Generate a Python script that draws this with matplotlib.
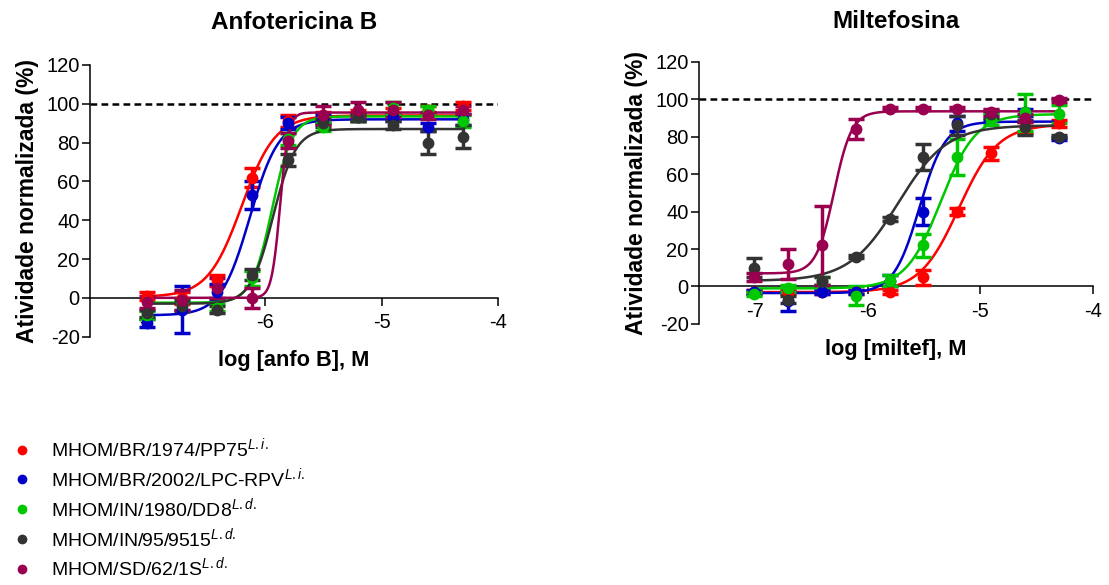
import numpy as np
import matplotlib
matplotlib.use("Agg")
from matplotlib import pyplot as plt
from matplotlib.lines import Line2D

plt.rcParams["font.family"] = ["Liberation Sans", "DejaVu Sans"]
plt.rcParams["mathtext.fontset"] = "custom"
plt.rcParams["mathtext.rm"] = "Liberation Sans"
plt.rcParams["mathtext.it"] = "Liberation Sans:italic"
plt.rcParams["axes.unicode_minus"] = False

# 2-fold dilution series (uM)
conc_uM = [0.0977, 0.195, 0.391, 0.781, 1.5625, 3.125, 6.25, 12.5, 25.0, 50.0]

strains = [
    "MHOM/BR/1974/PP75$^{\\mathit{L.i.}}$",
    "MHOM/BR/2002/LPC-RPV$^{\\mathit{L.i.}}$",
    "MHOM/IN/1980/DD8$^{\\mathit{L.d.}}$",
    "MHOM/IN/95/9515$^{\\mathit{L.d.}}$",
    "MHOM/SD/62/1S$^{\\mathit{L.d.}}$",
]
colors = ["#ff0000", "#0000c8", "#00c800", "#333333", "#990050"]

# Anfotericina B - mean and error per strain
anfo_mean = [
    [1, 0, 9, 62, 91, 93, 94, 96, 97, 99],
    [-13, -6, 3, 53, 90, 92, 93, 93, 88, 92],
    [-9, -3, -5, 10, 82, 88, 93, 98, 97, 91],
    [-8, -4, -6, 12, 71, 90, 93, 89, 80, 83],
    [-2, -1, 5, 0, 81, 94, 97, 97, 94, 97],
]
anfo_err = [
    [2, 3, 3, 5, 3, 3, 3, 2, 2, 2],
    [2, 12, 4, 7, 3, 2, 2, 2, 2, 3],
    [2, 3, 2, 4, 3, 2, 2, 3, 2, 3],
    [2, 3, 2, 3, 3, 2, 2, 2, 6, 6],
    [3, 5, 5, 5, 4, 5, 4, 4, 2, 2],
]
# 4PL fit: bottom, top, logEC50, hill slope
anfo_fit = [
    (0.5, 94.0, -6.20, 3.0),
    (-9.0, 92.0, -6.13, 3.5),
    (-2.5, 93.5, -5.94, 5.0),
    (-3.0, 87.0, -5.93, 4.5),
    (0.0, 95.5, -5.87, 12.0),
]

# Miltefosina
milt_mean = [
    [-3, -3, -3, -3, -3, 5, 40, 71, 85, 87],
    [-3, -8, -3, -3, 3, 40, 87, 91, 93, 79],
    [-4, -1, 3, -5, 3, 22, 69, 89, 93, 92],
    [10, -7, 3, 16, 36, 69, 86, 92, 85, 80],
    [5, 12, 22, 84, 95, 95, 95, 93, 90, 99.5],
]
milt_err = [
    [1, 1, 1, 1, 1, 4, 2, 3.5, 3, 2],
    [1, 5, 1, 1, 3, 7, 4, 2, 2, 1],
    [1, 2, 2, 5, 3, 6, 9.5, 3, 10, 5],
    [5, 2, 2, 1, 1, 7, 5, 2, 4, 1],
    [2, 8, 21, 5.5, 1, 1, 1, 2, 2, 1],
]
milt_fit = [
    (-3.0, 86.5, -5.19, 2.5),
    (-3.5, 88.0, -5.54, 3.8),
    (-1.0, 92.0, -5.35, 2.8),
    (3.0, 86.0, -5.73, 2.0),
    (7.0, 93.5, -6.30, 5.5),
]

log_conc = np.log10(np.array(conc_uM) * 1e-6)


def hill(x, bottom, top, logec50, slope):
    return bottom + (top - bottom) / (1 + 10 ** ((logec50 - x) * slope))


def draw_panel(ax, means, errs, fits, title, xlabel, xticks, title_pad):
    xs = np.linspace(log_conc[0], log_conc[-1], 400)
    for m, e, p, c in zip(means, errs, fits, colors):
        ax.errorbar(log_conc, m, yerr=e, fmt="o", color=c, ms=7.5,
                    elinewidth=2.5, capsize=5.5, capthick=2.5, clip_on=False, zorder=3)
        ax.plot(xs, hill(xs, *p), color=c, lw=1.8, zorder=3)
    ax.axhline(100, color="black", ls=(0, (2.7, 1.7)), lw=1.8, zorder=1)
    ax.set_xlim(-7.5, -4)
    ax.set_ylim(-20, 120)
    ax.set_yticks(range(-20, 121, 20))
    ax.set_xticks(xticks)
    ax.spines["top"].set_visible(False)
    ax.spines["right"].set_visible(False)
    ax.spines["bottom"].set_position(("data", 0))
    for s in ("left", "bottom"):
        ax.spines[s].set_linewidth(1.1)
    ax.tick_params(axis="both", direction="out", length=6, width=1.1,
                   labelsize=14.5, pad=1.5)
    ax.tick_params(axis="x", pad=5)
    ax.set_ylabel("Atividade normalizada (%)", fontsize=16.5, fontweight="bold",
                  labelpad=5)
    ax.set_xlabel(xlabel, fontsize=15.7, fontweight="bold", labelpad=13)
    ax.set_title(title, fontsize=17.5, fontweight="bold", pad=title_pad)


fig = plt.figure(figsize=(11.09, 5.85), dpi=100)
ax1 = fig.add_axes([0.0812, 0.4245, 0.368, 0.4644])
ax2 = fig.add_axes([0.6303, 0.4462, 0.355, 0.4484])

draw_panel(ax1, anfo_mean, anfo_err, anfo_fit, "Anfotericina B",
           "log [anfo B], M", [-7, -6, -5, -4], 26)
draw_panel(ax2, milt_mean, milt_err, milt_fit, "Miltefosina",
           "log [miltef], M", [-7, -6, -5, -4], 24)

handles = [Line2D([], [], ls="none", marker="o", ms=6, color=c) for c in colors]
fig.legend(handles, strains, loc="upper left", bbox_to_anchor=(0.0, 1 - 423 / 585),
           frameon=False, fontsize=14, handlelength=0.9, handletextpad=1.0,
           labelspacing=0.3, borderaxespad=0.3)

fig.savefig("out.png", dpi=100)
